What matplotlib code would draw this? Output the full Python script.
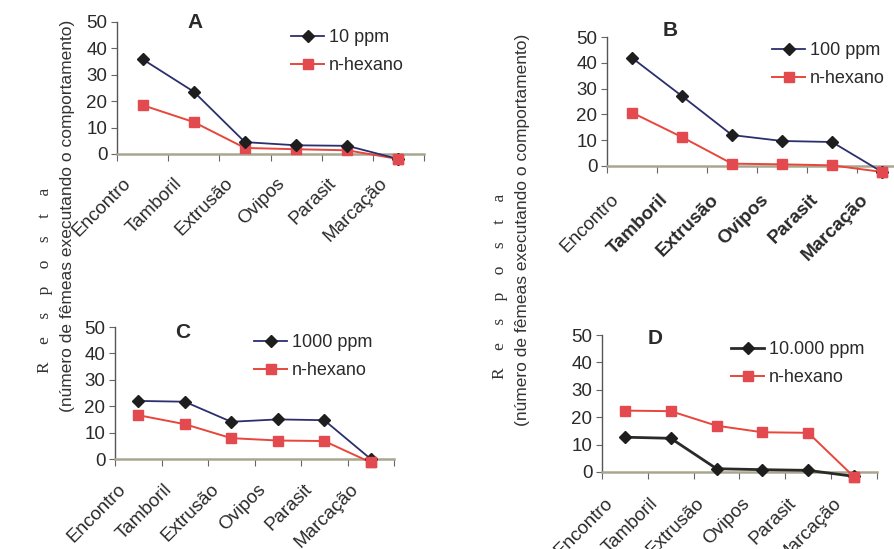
import matplotlib
matplotlib.use("Agg")
import matplotlib.pyplot as plt
from matplotlib.lines import Line2D
import matplotlib.transforms as mtransforms

plt.rcParams['font.family'] = ['Liberation Sans', 'DejaVu Sans']

categories = ["Encontro", "Tamboril", "Extrusão", "Ovipos", "Parasit", "Marcação"]

a_treat = [35.9, 23.6, 4.5, 3.3, 3.1, -1.9]
a_hex = [18.5, 12.1, 2.3, 1.8, 1.4, -1.9]
b_treat = [41.9, 27.1, 12.0, 9.7, 9.3, -2.3]
b_hex = [20.7, 11.2, 0.9, 0.65, 0.25, -2.3]
c_treat = [22.0, 21.7, 14.1, 15.0, 14.7, 0.0]
c_hex = [16.6, 13.2, 7.9, 7.0, 6.8, -1.3]
d_treat = [12.7, 12.3, 1.2, 0.85, 0.6, -1.6]
d_hex = [22.4, 22.2, 16.9, 14.5, 14.3, -1.8]

labels_treat = ["10 ppm", "100 ppm", "1000 ppm", "10.000 ppm"]
label_hex = "n-hexano"
panel_letters = ["A", "B", "C", "D"]
yticks = [0, 10, 20, 30, 40, 50]

W, H = 894, 549
fig = plt.figure(figsize=(W / 100, H / 100), dpi=100)
fig.patch.set_facecolor("white")

NAVY = "#2b2f6e"
DARK = "#2a2a2a"
RED_LINE = "#e8463a"
RED_MK = "#e34a50"

def pos(left, right, y50, y0):
    return [left / W, 1 - y0 / H, (right - left) / W, (y0 - y50) / H]

panels = [
    dict(rect=pos(117, 424, 22, 154), treat=a_treat, hex=a_hex, lab=labels_treat[0],
         letter=(195, 22), leg=(291, 29), tcol=NAVY, tlw=1.3, bold=False, off=(-8, -21)),
    dict(rect=pos(607, 907, 37, 166), treat=b_treat, hex=b_hex, lab=labels_treat[1],
         letter=(670, 30), leg=(772, 42), tcol=NAVY, tlw=1.3, bold=True, off=(-10, -25)),
    dict(rect=pos(115, 394, 327, 459), treat=c_treat, hex=c_hex, lab=labels_treat[2],
         letter=(183, 332), leg=(254, 334), tcol=NAVY, tlw=1.3, bold=False, off=(-9, -22)),
    dict(rect=pos(602, 877, 335, 472), treat=d_treat, hex=d_hex, lab=labels_treat[3],
         letter=(655, 339), leg=(731, 341), tcol=DARK, tlw=2.0, bold=False, off=(-9, -23)),
]

x = list(range(len(categories)))
for i, p in enumerate(panels):
    ax = fig.add_axes(p["rect"])
    ax.set_facecolor("none")
    ax.set_xlim(-0.5, len(categories) - 0.5)
    ax.set_ylim(0, 50)
    ax.plot(x, p["hex"], color=RED_LINE, lw=1.4, marker="s", ms=7.5,
            mfc=RED_MK, mec=RED_MK, clip_on=False, zorder=3)
    ax.plot(x, p["treat"], color=p["tcol"], lw=p["tlw"], marker="D", ms=6,
            mfc="#1e1e1e", mec="#1e1e1e", clip_on=False, zorder=4)
    ax.plot([x[-1]], [p["hex"][-1]], marker="s", ms=7.5, mfc=RED_MK, mec=RED_MK,
            clip_on=False, zorder=5, ls="none")
    for s in ["top", "right"]:
        ax.spines[s].set_visible(False)
    ax.spines["left"].set_color("#555555")
    ax.spines["left"].set_linewidth(1.0)
    ax.spines["bottom"].set_color("#a9a68f")
    ax.spines["bottom"].set_linewidth(1.8)
    ax.set_yticks(yticks)
    ax.set_yticklabels([str(v) for v in yticks], fontsize=13.5, color="#2a2a2a")
    ax.tick_params(axis="y", direction="out", length=4, width=0.8, color="#666666", pad=3)
    ax.set_xticks([k - 0.5 for k in range(len(categories) + 1)])
    ax.set_xticklabels([])
    ax.tick_params(axis="x", direction="out", length=5, width=0.8, color="#666666")
    dx, dy = p["off"]
    for k, c in enumerate(categories):
        tr = ax.get_xaxis_transform() + mtransforms.ScaledTranslation(dx / 100, dy / 100, fig.dpi_scale_trans)
        weight = "bold" if (p["bold"] and k > 0) else "normal"
        ax.text(k, 0, c, transform=tr, rotation=45, ha="right", va="top",
                fontsize=13.5, color="#2a2a2a", fontweight=weight, clip_on=False)
    lx, ly = p["letter"]
    fig.text(lx / W, 1 - ly / H, panel_letters[i], fontsize=15, fontweight="bold",
             ha="center", va="center", color="#2a2a2a")
    handles = [
        Line2D([], [], color=p["tcol"], lw=p["tlw"], marker="D", ms=6, mfc="#1e1e1e", mec="#1e1e1e"),
        Line2D([], [], color=RED_LINE, lw=1.4, marker="s", ms=7.5, mfc=RED_MK, mec=RED_MK),
    ]
    gx, gy = p["leg"]
    ax.legend(handles, [p["lab"], label_hex], loc="upper left",
              bbox_to_anchor=(gx / W, 1 - gy / H), bbox_transform=fig.transFigure,
              frameon=False, fontsize=13, handlelength=1.85, handletextpad=0.25,
              labelspacing=0.62, borderpad=0, borderaxespad=0, labelcolor="#2a2a2a")

resp = "R    e    s    p    o    s    t    a"
longlab = "(número de fêmeas executando o comportamento)"
for (xr, yr, xl, yl) in [(45, 280, 68, 216), (500, 286, 522, 230)]:
    fig.text(xr / W, 1 - yr / H, resp, rotation=90, ha="center", va="center",
             fontsize=12.5, family=["Liberation Serif", "DejaVu Serif"], color="#333333")
    fig.text(xl / W, 1 - yl / H, longlab, rotation=90, ha="center", va="center",
             fontsize=12.5, color="#333333")

fig.savefig("out.png", dpi=100)
